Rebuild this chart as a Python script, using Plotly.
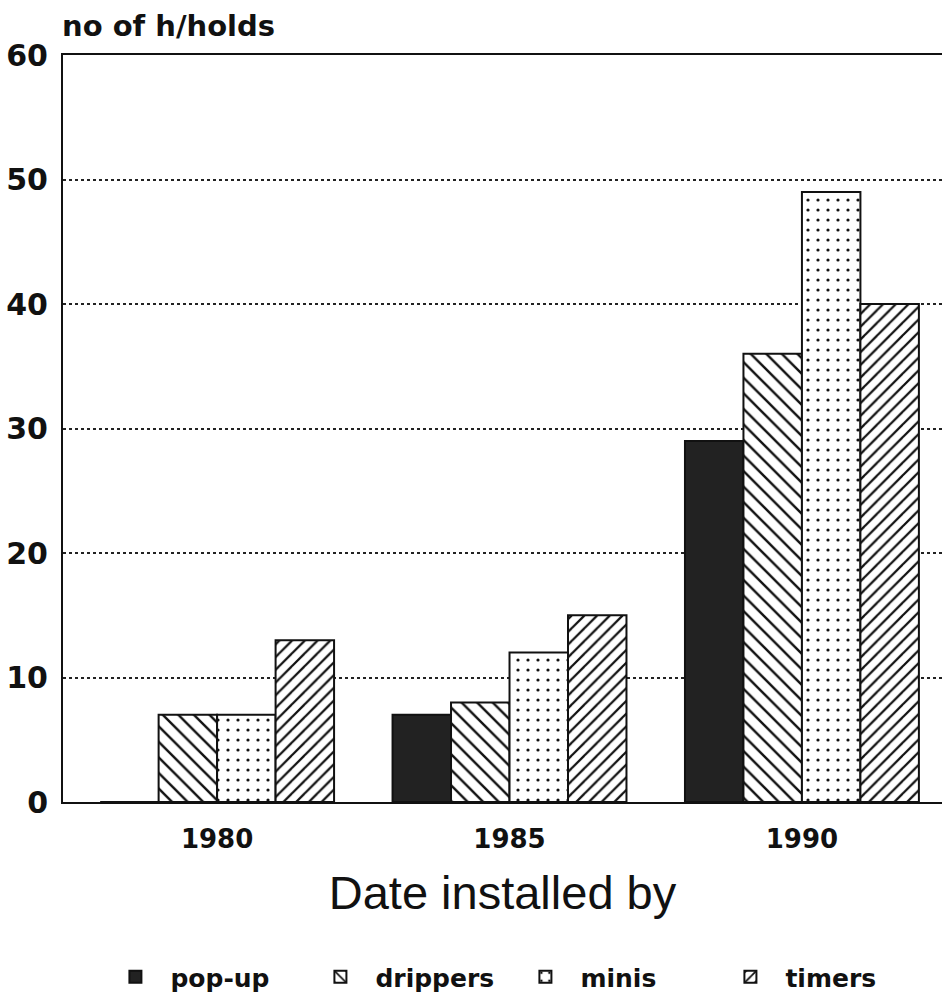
import plotly.graph_objects as go

years = ["1980", "1985", "1990"]
series_names = ["pop-up", "drippers", "minis", "timers"]
pop_up = [0, 7, 29]
drippers = [7, 8, 36]
minis = [7, 12, 49]
timers = [13, 15, 40]
y_ticks = [0, 10, 20, 30, 40, 50, 60]

values = [pop_up, drippers, minis, timers]
patterns = [
    dict(shape="", fillmode="replace"),
    dict(shape="\\", size=11, solidity=0.22, fgcolor="#111", bgcolor="white", fillmode="replace"),
    dict(shape=".", size=10, solidity=0.08, fgcolor="#111", bgcolor="white", fillmode="replace"),
    dict(shape="/", size=9, solidity=0.25, fgcolor="#111", bgcolor="white", fillmode="replace"),
]
colors = ["#222222", "white", "white", "white"]

fig = go.Figure()
for name, vals, pat, col in zip(series_names, values, patterns, colors):
    fig.add_trace(go.Bar(
        x=years, y=vals, name=name,
        marker=dict(color=col, pattern=pat, line=dict(color="#111", width=2)),
    ))

fig.update_layout(
    width=942, height=1000,
    margin=dict(l=63, r=0, t=55, b=197),
    paper_bgcolor="white", plot_bgcolor="white",
    barmode="group", bargap=0.2, bargroupgap=0,
    showlegend=True,
    legend=dict(orientation="h", x=0.509, xanchor="center", y=-0.234, yanchor="middle",
                font=dict(family="DejaVu Sans", size=25, color="#111", weight="bold"),
                itemwidth=60, entrywidth=130, entrywidthmode="pixels",
                traceorder="normal"),
    title=dict(text="<b>no of h/holds</b>", xref="container", x=62/942, xanchor="left",
               y=1-26/1000, yanchor="middle",
               font=dict(family="DejaVu Sans", size=29, color="#111")),
    xaxis=dict(type="category", range=[-0.527, 2.479], showline=True, mirror=True,
               linecolor="#111", linewidth=2, showgrid=False,
               tickfont=dict(family="DejaVu Sans", size=26, color="#111"),
               ticks="", ticklabelstandoff=13,
               tickvals=years, ticktext=["<b>%s</b>" % y for y in years],
               title=dict(text="Date installed by", standoff=23,
                          font=dict(family="Liberation Sans", size=47, color="#111"))),
    yaxis=dict(range=[0, 60], tickvals=y_ticks, ticktext=["<b>%d</b>" % v for v in y_ticks],
               showline=True, linecolor="#111", linewidth=2,
               showgrid=True, gridcolor="#222", gridwidth=2, griddash="dot",
               zeroline=False, ticks="", ticklabelstandoff=7,
               tickfont=dict(family="DejaVu Sans", size=30, color="#111")),
)
fig.write_html("out.html")
